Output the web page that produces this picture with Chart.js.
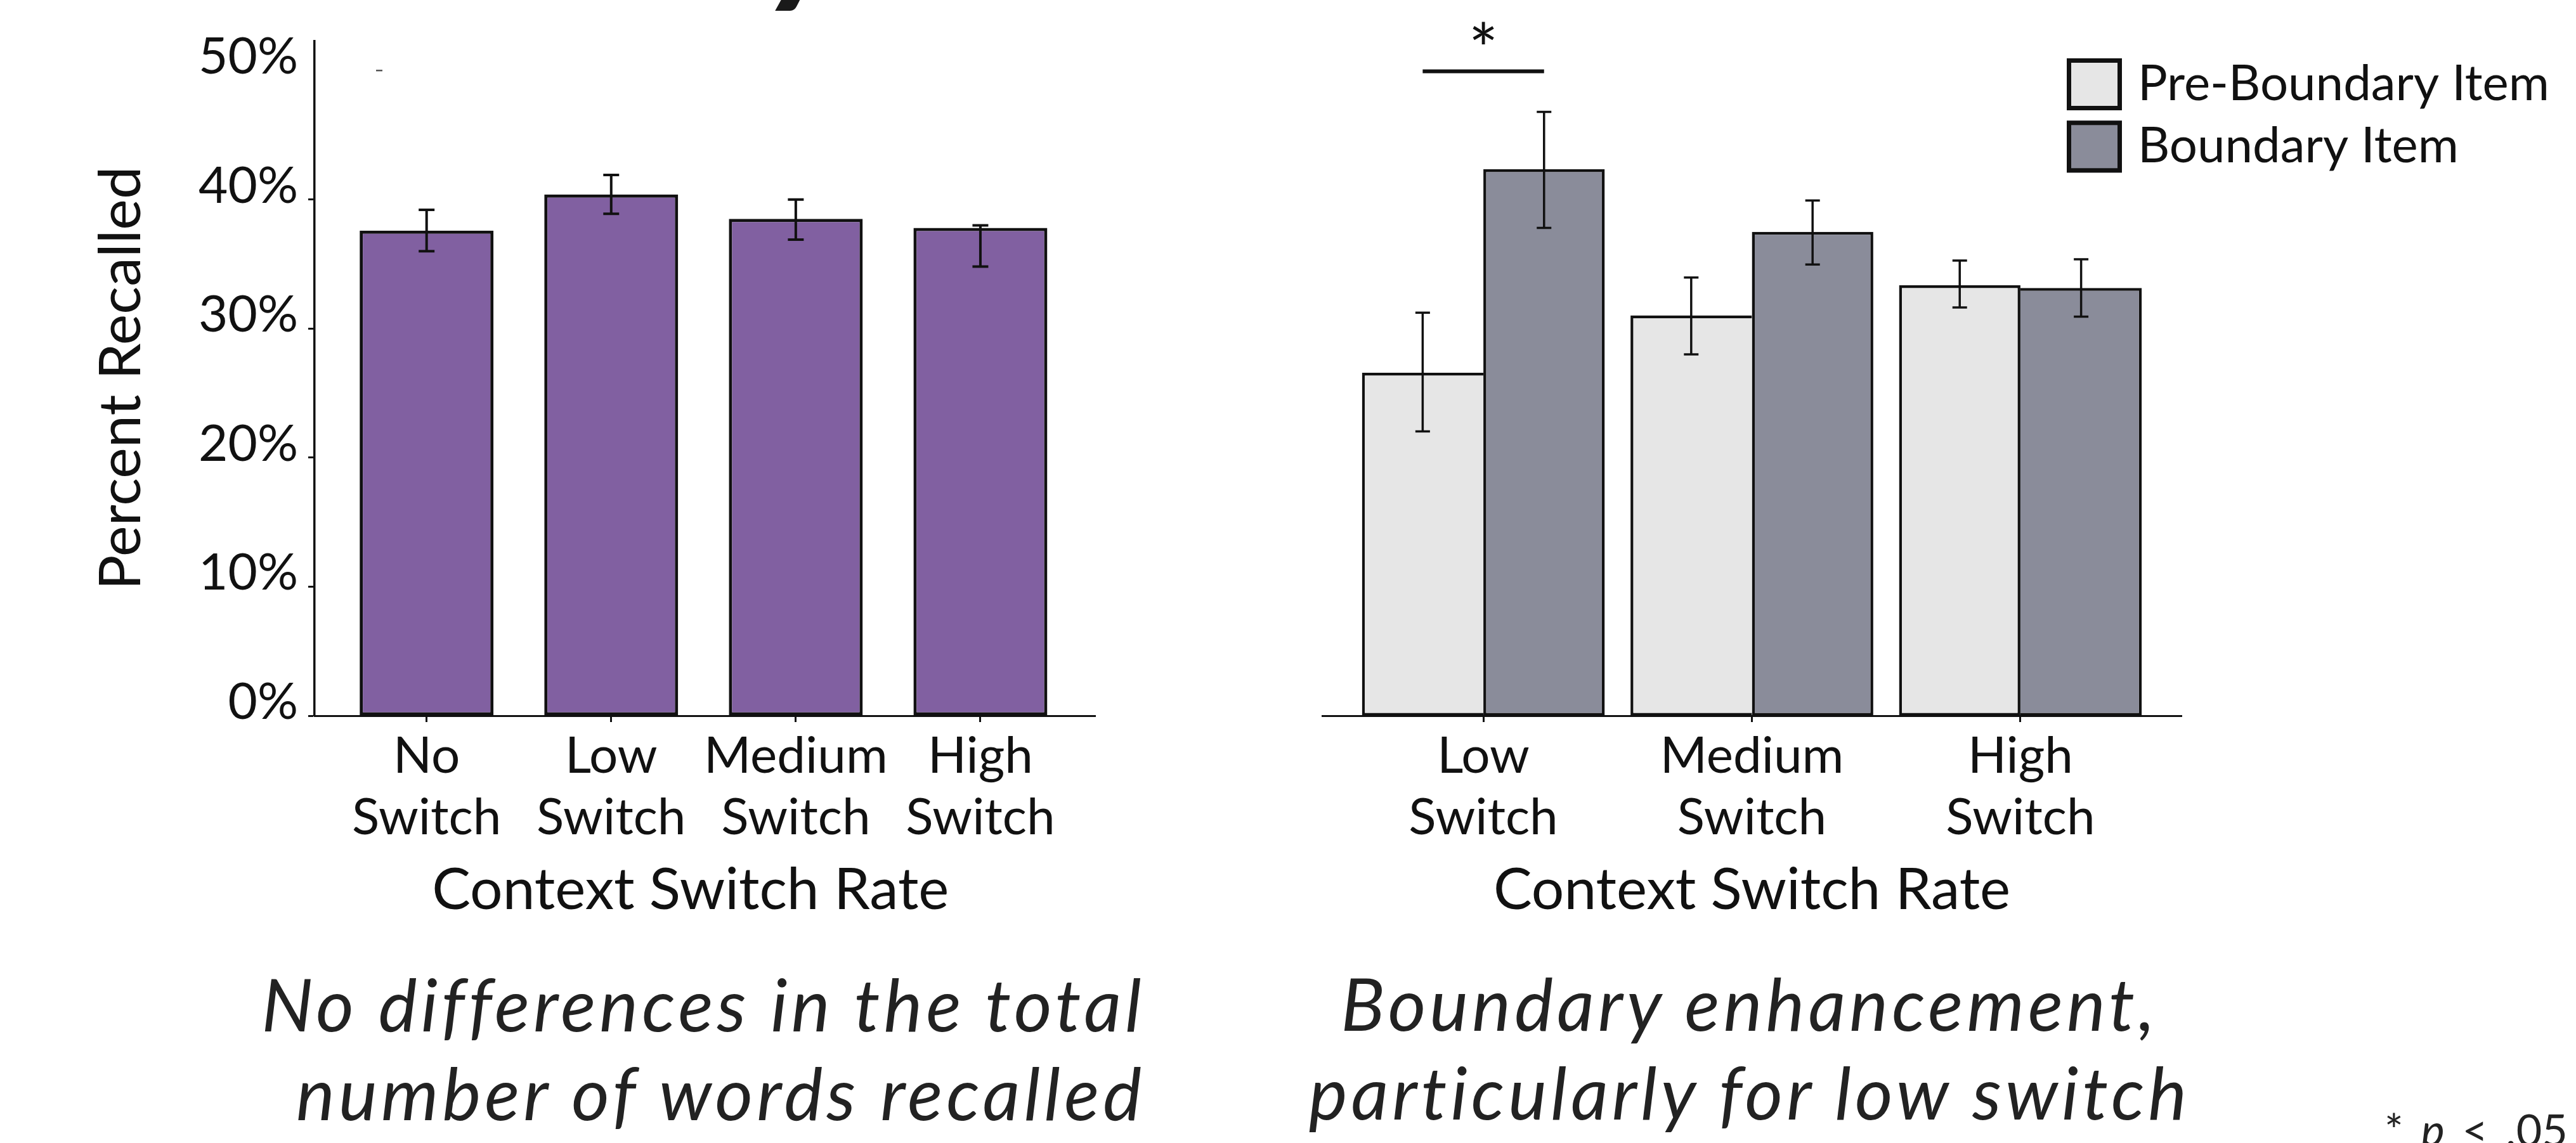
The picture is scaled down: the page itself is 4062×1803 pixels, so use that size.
<!DOCTYPE html>
<html>
<head>
<meta charset="utf-8">
<script src="https://cdn.jsdelivr.net/npm/chart.js@4.4.1/dist/chart.umd.min.js"></script>
<style>
  html, body { margin: 0; padding: 0; background: #fff; }
  body { width: 4062px; height: 1803px; position: relative; overflow: hidden;
         font-family: Lato, "Noto Sans", sans-serif; color: #111; }
  .wrap { position: absolute; top: 0; }
  #leftWrap { left: 0; width: 2000px; height: 1480px; }
  #rightWrap { left: 2000px; width: 2062px; height: 1480px; }
  .caption { position: absolute; font-style: italic; font-weight: 400; font-size: 115px;
             letter-spacing: 6px; line-height: 140px; color: #222; white-space: nowrap; }
  #capLeft { right: 2256px; top: 1512px; text-align: right; }
  #capRight { left: 1759px; width: 2000px; top: 1511px; text-align: center; }
  #footnote { position: absolute; left: 3760px; top: 1739px; font-size: 70px; font-weight: 400;
              color: #222; white-space: nowrap; word-spacing: 10px; line-height: 1.2; }
  #headTail { position: absolute; left: 1190px; top: -190px; font-size: 230px; font-weight: 900;
              font-style: italic; line-height: 1; color: #1a1a1a; white-space: nowrap; }
</style>
</head>
<body>
<div id="headTail">y</div>
<div class="wrap" id="leftWrap"><canvas id="leftCanvas" width="2000" height="1480"></canvas></div>
<div class="wrap" id="rightWrap"><canvas id="rightCanvas" width="2062" height="1480"></canvas></div>
<div class="caption" id="capLeft">No differences in the total<br>number of words recalled</div>
<div class="caption" id="capRight">Boundary enhancement,<br>particularly for low switch</div>
<div id="footnote">* <i>p</i> &lt; .05</div>

<script>
// ---- data ----
const switchRates = [['No', 'Switch'], ['Low', 'Switch'], ['Medium', 'Switch'], ['High', 'Switch']];
const totalRecall   = [37.6, 40.4, 38.5, 37.8];
const totalRecallLo = [36.0, 38.9, 36.9, 34.8];
const totalRecallHi = [39.2, 41.9, 40.0, 38.0];

const boundaryRates = [['Low', 'Switch'], ['Medium', 'Switch'], ['High', 'Switch']];
const seriesNames = ['Pre-Boundary Item', 'Boundary Item'];
const preBoundary   = [26.3, 30.7, 33.0];
const preBoundaryLo = [21.8, 27.7, 31.3];
const preBoundaryHi = [30.9, 33.6, 34.9];
const boundaryItem   = [41.9, 37.1, 32.8];
const boundaryItemLo = [37.4, 34.6, 30.6];
const boundaryItemHi = [46.3, 39.5, 35.0];

const yTicks = [0, 10, 20, 30, 40, 50];
const significantGroups = [0];   // index into boundaryRates marked with *

// ---- shared look ----
const INK = '#111111';
const FAMILY = 'Lato, "Noto Sans", sans-serif';
const tickFont = { family: FAMILY, size: 80, weight: 400, lineHeight: 1.21 };
const titleFont = { family: FAMILY, size: 91, weight: 400, lineHeight: 1.2 };
const Y_MAX = 52.3;

// whiskers drawn from each dataset's errLo / errHi arrays
const errorBars = {
  id: 'errorBars',
  afterDatasetsDraw(chart, args, opts) {
    const ctx = chart.ctx, y = chart.scales.y;
    chart.data.datasets.forEach((ds, di) => {
      chart.getDatasetMeta(di).data.forEach((bar, i) => {
        const top = y.getPixelForValue(ds.errHi[i]);
        const bot = y.getPixelForValue(ds.errLo[i]);
        const h = opts.cap / 2;
        ctx.save();
        ctx.strokeStyle = opts.color;
        ctx.lineWidth = opts.width;
        ctx.beginPath();
        ctx.moveTo(bar.x, top); ctx.lineTo(bar.x, bot);
        ctx.moveTo(bar.x - h, top); ctx.lineTo(bar.x + h, top);
        ctx.moveTo(bar.x - h, bot); ctx.lineTo(bar.x + h, bot);
        ctx.stroke();
        ctx.restore();
      });
    });
  }
};

// small stray mark beside the 50% level of the left axis
const strayMark = {
  id: 'strayMark',
  afterDraw(chart, args, opts) {
    const ctx = chart.ctx, y = chart.scales.y.getPixelForValue(opts.value);
    const x0 = chart.chartArea.left + opts.dx;
    ctx.save();
    ctx.strokeStyle = opts.color; ctx.lineWidth = opts.width;
    ctx.beginPath(); ctx.moveTo(x0, y); ctx.lineTo(x0 + opts.len, y); ctx.stroke();
    ctx.restore();
  }
};

// bracket + asterisk over significant pairs
const significance = {
  id: 'significance',
  afterDatasetsDraw(chart, args, opts) {
    const ctx = chart.ctx, y = chart.scales.y;
    const ds = chart.data.datasets;
    opts.groups.forEach(g => {
      const a = chart.getDatasetMeta(0).data[g];
      const b = chart.getDatasetMeta(1).data[g];
      const topVal = Math.max(ds[0].errHi[g], ds[1].errHi[g]);
      const lineY = y.getPixelForValue(topVal) - opts.gap;
      ctx.save();
      ctx.strokeStyle = INK; ctx.lineWidth = opts.lineWidth;
      ctx.beginPath(); ctx.moveTo(a.x, lineY); ctx.lineTo(b.x, lineY); ctx.stroke();
      ctx.fillStyle = INK;
      ctx.font = opts.font;
      ctx.textAlign = 'center'; ctx.textBaseline = 'alphabetic';
      ctx.fillText('*', (a.x + b.x) / 2, lineY + opts.starDrop);
      ctx.restore();
    });
  }
};

// boxed legend at the top right
const boxLegend = {
  id: 'boxLegend',
  afterDraw(chart, args, opts) {
    const ctx = chart.ctx;
    chart.data.datasets.forEach((ds, i) => {
      const top = opts.y + i * opts.rowStep;
      ctx.save();
      ctx.fillStyle = ds.backgroundColor;
      ctx.fillRect(opts.x, top, opts.w, opts.h);
      ctx.strokeStyle = INK; ctx.lineWidth = opts.border;
      const b = opts.border / 2;
      ctx.strokeRect(opts.x + b, top + b, opts.w - opts.border, opts.h - opts.border);
      ctx.fillStyle = INK;
      ctx.font = opts.font;
      ctx.textAlign = 'left'; ctx.textBaseline = 'alphabetic';
      ctx.fillText(ds.label, opts.textX, top + opts.baseline);
      ctx.restore();
    });
  }
};

function keepTicks(values) {
  return scale => { scale.ticks = values.map(v => ({ value: v })); };
}

function xScale(labels, min, max, fitHeight, titleText) {
  return {
    type: 'linear', min: min, max: max, offset: false,
    afterBuildTicks: keepTicks(labels.map((_, i) => i + 1)),
    afterFit: s => { s.height = fitHeight; },
    ticks: {
      callback: v => labels[v - 1], font: tickFont, color: INK,
      padding: 6, maxRotation: 0, minRotation: 0, autoSkip: false
    },
    grid: { drawOnChartArea: false, drawTicks: true, tickLength: 10, tickWidth: 3,
            tickColor: INK, offset: false },
    border: { display: true, color: INK, width: 3 },
    title: { display: true, text: titleText, font: titleFont, color: INK,
             padding: { top: 0, bottom: 21 } }
  };
}

// ---- left: total recall by switch rate ----
new Chart(document.getElementById('leftCanvas'), {
  type: 'bar',
  data: {
    datasets: [{
      label: 'Percent Recalled',
      data: totalRecall.map((v, i) => ({ x: i + 1, y: v })),
      errLo: totalRecallLo, errHi: totalRecallHi,
      backgroundColor: '#8160A1', borderColor: INK, borderWidth: 5, borderSkipped: false,
      categoryPercentage: 0.725, barPercentage: 1
    }]
  },
  options: {
    responsive: false, animation: false, devicePixelRatio: 1,
    layout: { padding: { top: 53, right: 273, left: 0, bottom: 0 } },
    plugins: {
      legend: { display: false }, tooltip: { enabled: false },
      errorBars: { color: INK, width: 4, cap: 25 },
      strayMark: { value: 50, dx: 97, len: 10, width: 2.5, color: '#555' }
    },
    scales: {
      // en space keeps the centred title slightly left of the axis midpoint
      x: xScale(switchRates, 0.393, 4.622, 351, 'Context Switch Rate\u2002'),
      y: {
        min: 0, max: Y_MAX,
        afterBuildTicks: keepTicks(yTicks),
        afterFit: s => { s.width = 496; },
        ticks: { callback: v => v + '%', font: tickFont, color: INK, padding: 16, labelOffset: -21 },
        grid: { drawOnChartArea: false, tickLength: 10, tickWidth: 3,
                tickColor: c => (c.tick && c.tick.value === 50) ? 'rgba(0,0,0,0)' : INK },
        border: { display: true, color: INK, width: 3.5 },
        title: { display: true, text: 'Percent Recalled',
                 font: { family: FAMILY, size: 92, weight: 400, lineHeight: 1.2 },
                 color: INK, padding: { top: 136, bottom: 0 } }
      }
    }
  },
  plugins: [errorBars, strayMark]
});

// ---- right: pre-boundary vs boundary items ----
const PRE_FILL = '#E6E6E6', BND_FILL = '#8A8C9A';
new Chart(document.getElementById('rightCanvas'), {
  type: 'bar',
  data: {
    datasets: [{
      label: seriesNames[0],
      data: preBoundary.map((v, i) => ({ x: i + 1, y: v })),
      errLo: preBoundaryLo, errHi: preBoundaryHi,
      backgroundColor: PRE_FILL, borderColor: INK, borderSkipped: false,
      borderWidth: c => ({ top: 4.5, left: 4.5, bottom: 4.5,
                           right: preBoundary[c.dataIndex] >= boundaryItem[c.dataIndex] ? 4.5 : 0 }),
      categoryPercentage: 0.904, barPercentage: 1
    }, {
      label: seriesNames[1],
      data: boundaryItem.map((v, i) => ({ x: i + 1, y: v })),
      errLo: boundaryItemLo, errHi: boundaryItemHi,
      backgroundColor: BND_FILL, borderColor: INK, borderSkipped: false,
      borderWidth: c => ({ top: 4.5, right: 4.5, bottom: 4.5,
                           left: boundaryItem[c.dataIndex] > preBoundary[c.dataIndex] ? 4.5 : 0 }),
      categoryPercentage: 0.904, barPercentage: 1
    }]
  },
  options: {
    responsive: false, animation: false, devicePixelRatio: 1,
    layout: { padding: { top: 53, right: 622, left: 85, bottom: 0 } },
    plugins: {
      legend: { display: false }, tooltip: { enabled: false },
      errorBars: { color: INK, width: 3.5, cap: 23 },
      significance: { groups: significantGroups, gap: 64, lineWidth: 6, starDrop: 6,
                      font: '400 110px ' + FAMILY },
      boxLegend: { x: 1259, y: 92, w: 87, h: 82, rowStep: 98.3, border: 7, textX: 1371,
                   baseline: 65.5, font: '400 78px ' + FAMILY }
    },
    scales: {
      x: xScale(boundaryRates, 0.4, 3.6, 351, 'Context Switch Rate'),
      y: { display: false, min: 0, max: Y_MAX }
    }
  },
  plugins: [errorBars, significance, boxLegend]
});

// place the clipped heading glyph so its tail ends just inside the top edge
(function () {
  const el = document.getElementById('headTail');
  const cs = getComputedStyle(el);
  const probe = document.createElement('span');
  probe.style.display = 'inline-block'; probe.style.width = '0'; probe.style.height = '0';
  el.appendChild(probe);
  const baseline = probe.getBoundingClientRect().top - el.getBoundingClientRect().top;
  el.removeChild(probe);
  const c = document.createElement('canvas').getContext('2d');
  c.font = cs.fontStyle + ' ' + cs.fontWeight + ' ' + cs.fontSize + ' ' + cs.fontFamily;
  const m = c.measureText(el.textContent);
  el.style.top = (17 - baseline - m.actualBoundingBoxDescent) + 'px';
  el.style.left = (1219 + m.actualBoundingBoxLeft) + 'px';
})();
</script>
</body>
</html>
